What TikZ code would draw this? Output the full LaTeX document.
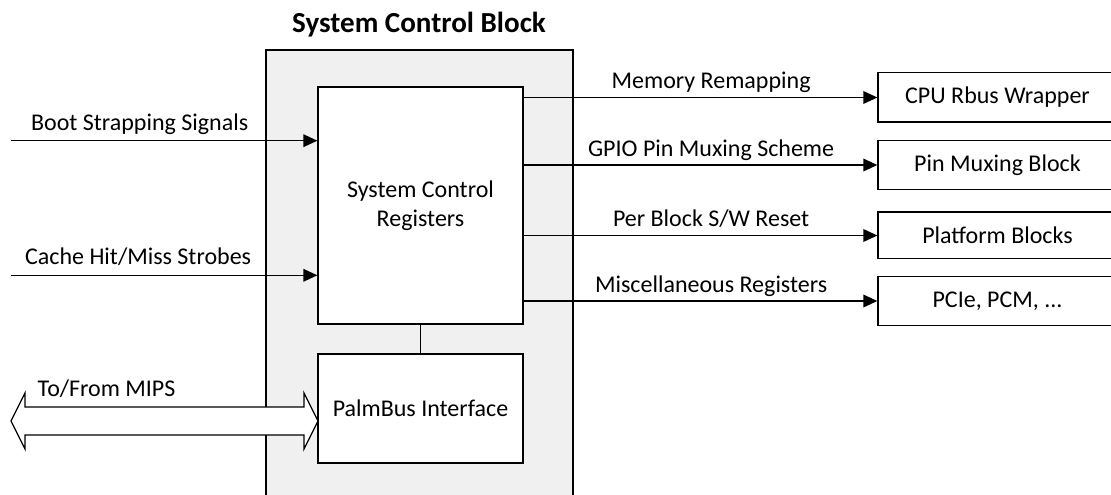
\documentclass[tikz,border=0pt]{standalone}
\usepackage{fontspec}
\setmainfont{Carlito}
\usetikzlibrary{arrows.meta}

\tikzset{
  blk/.style={draw, line width=1pt, fill=white, align=center, inner sep=0pt},
  sig/.style={line width=1pt, -{Triangle[length=10.5pt,width=9.5pt]}},
  lbl/.style={anchor=base, yshift=#1},
  lbl/.default=6.5pt,
}

\begin{document}
\begin{tikzpicture}[x=0.75pt, y=-0.75pt, font=\fontsize{18}{22}\selectfont]
    \useasboundingbox (0,0) rectangle (1111,495);

    % System Control Block
    \node[draw, line width=1pt, fill=black!6, minimum width=230.25pt, minimum height=337.5pt] (scb) at (419.5,275) {};
    \node[anchor=base, font=\fontsize{21.8}{26}\selectfont\bfseries] (title) at (419,32.5) {System Control Block};
    \node[blk, minimum width=153.75pt, minimum height=177.75pt] (scr) at (420.5,205.5) {System Control\\Registers};
    \node[blk, minimum width=153.75pt, minimum height=81.75pt] (palm) at (420.5,408.5) {PalmBus Interface};
    \draw[line width=1pt] (scr) -- (palm);

    % blocos de destino
    \node[blk, minimum width=179.25pt, minimum height=37pt] (cpu) at (997.5,97.5) {CPU Rbus Wrapper};
    \node[blk, minimum width=179.25pt, minimum height=37pt] (pin) at (997.5,165) {Pin Muxing Block};
    \node[blk, minimum width=179.25pt, minimum height=35pt] (plat) at (997.5,235.5) {Platform Blocks};
    \node[blk, minimum width=179.25pt, minimum height=37pt] (pcie) at (997.5,301) {PCIe, PCM, ...};

    \draw[sig] (scr.east |- cpu) -- node[lbl, pos=0.53] {Memory Remapping} (cpu);
    \draw[sig] (scr.east |- pin) -- node[lbl, pos=0.53] {GPIO Pin Muxing Scheme} (pin);
    \draw[sig] (scr.east |- plat) -- node[lbl, pos=0.53] {Per Block S/W Reset} (plat);
    \draw[sig] (scr.east |- pcie) -- node[lbl, pos=0.53] {Miscellaneous Registers} (pcie);

    % entradas
    \coordinate (boot) at (11,140.7);
    \coordinate (cache) at (11,275.3);
    \draw[sig] (boot) -- node[lbl=8pt, pos=0.42] {Boot Strapping Signals} (scr.west |- boot);
    \draw[sig] (cache) -- node[lbl=8pt, pos=0.415] {Cache Hit/Miss Strobes} (scr.west |- cache);

    % barramento MIPS
    \filldraw[fill=white, line width=1pt] (11,421) -- (25,393) -- (25,407) -- (304,407) -- (304,393)
        -- (318,421) -- (304,449) -- (304,435) -- (25,435) -- (25,449) -- cycle;
    \node[anchor=base west] (mips) at (33,397) {To/From MIPS};
\end{tikzpicture}
\end{document}
